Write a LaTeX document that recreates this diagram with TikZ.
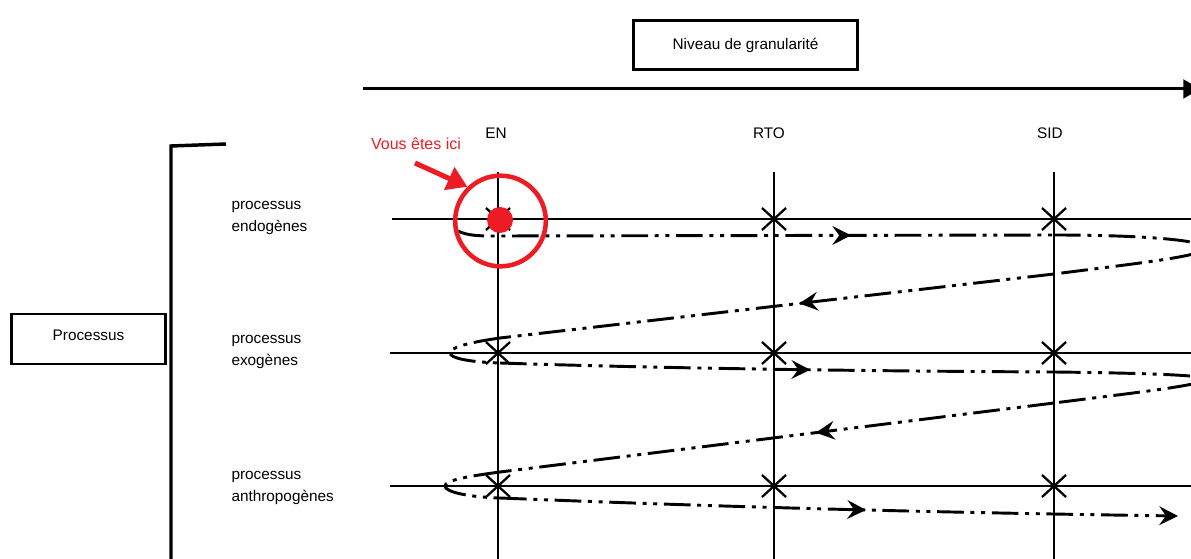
\documentclass[tikz,border=0pt]{standalone}
\usepackage{fontspec}
\setmainfont{Liberation Sans}
\usetikzlibrary{arrows.meta,decorations.markings,positioning}

\definecolor{rougeici}{RGB}{237,28,36}

\tikzset{every picture/.style={line width=0.75pt}}
\tikzset{
  cadre/.style={draw, line width=2.2pt, inner sep=0pt},
  etiquette/.style={font=\fontsize{11.5}{16.5}\selectfont, inner sep=0pt},
  trait/.style={line width=2.1pt},
  croix/.style={line width=1.7pt},
  parcours/.style={line width=2.2pt, dash pattern=on 20pt off 5pt on 3pt off 5pt on 3pt off 5pt},
  fleche parcours/.style={postaction={decorate}, decoration={markings,
      mark=at position #1 with {\arrow{Stealth[length=14pt,width=14pt,inset=5pt]}}}},
}

\begin{document}
\begin{tikzpicture}[x=0.75pt,y=0.75pt,yscale=-1,xscale=1]
\path[use as bounding box] (0,0) rectangle (1191,559);
\clip (0,0) rectangle (1191,559);

%Shape: Rectangle -- niveau
\node[cadre, minimum width=168pt, minimum height=36.75pt, etiquette] (niveau) at (745.5,45) {Niveau de granularité};
%Straight Lines -- axe de granularite
\coordinate (axe debut) at (363,89);
\coordinate (axe fin) at (1200,89);
\draw[line width=2.25pt, -{Triangle[length=12.5pt,width=14pt]}] (axe debut) -- (axe fin);

%Shape: Rectangle -- processus
\node[cadre, minimum width=115pt, minimum height=37.5pt, etiquette, text depth=6pt] (processus) at (88.5,339) {Processus};
%Straight Lines -- accolade
\draw[line width=2.6pt] (226,144) -- (171,146) -- (171,565);

%Text -- niveaux
\node[etiquette] (en) at (496,133) {EN};
\node[etiquette] (rto) at (769,133) {RTO};
\node[etiquette] (sid) at (1050,133) {SID};

%Text -- processus
\node[etiquette, anchor=west, align=left] (endo) at (231,218) {processus\\endogènes};
\node[etiquette, anchor=west, align=left] (exo) at (231,351.5) {processus\\exogènes};
\node[etiquette, anchor=west, align=left] (anthropo) at (231,488) {processus\\anthropogènes};

%Straight Lines -- grille
\foreach \cx in {498,774,1054}
  \draw[trait] (\cx,172) -- (\cx,565);
\foreach \cy/\cd in {219/392,353/390,486/390}
  \draw[trait] (\cd,\cy) -- (1200,\cy);

%Curve Lines -- parcours
\draw[parcours, fleche parcours=0.66] (458,231) .. controls (468,236) and (480,236) .. (500,236) -- (1054,235);
\draw[parcours] (1054,235) .. controls (1140,235) and (1205,240) .. (1205,248) .. controls (1205,256) and (1140,263) .. (1054,274);
\draw[parcours, fleche parcours=0.46] (1054,274) -- (500,338);
\draw[parcours] (500,338) .. controls (465,343) and (450,348) .. (450,353) .. controls (450,358) and (468,362) .. (500,363);
\draw[parcours, fleche parcours=0.56] (500,363) .. controls (650,368) and (850,371) .. (1054,372);
\draw[parcours] (1054,372) .. controls (1140,373) and (1205,375) .. (1205,379) .. controls (1205,385) and (1140,392) .. (1054,403);
\draw[parcours, fleche parcours=0.43] (1054,403) -- (500,472);
\draw[parcours] (500,472) .. controls (462,477) and (445,481) .. (445,486) .. controls (445,492) and (468,497) .. (500,498);
\draw[parcours, fleche parcours=0.54, -{Stealth[length=14pt,width=14pt,inset=5pt]}] (500,498) .. controls (700,506) and (900,512) .. (1178,516);

%Shape: Cross -- intersections
\foreach \cx/\cy in {498/219,774/219,1054/219,498/353,774/353,1054/353,498/486,774/486,1054/486}
  \draw[croix] (\cx-12,\cy-11) -- (\cx+12,\cy+11) (\cx-12,\cy+11) -- (\cx+12,\cy-11);

%Shape: Circle -- vous etes ici
\node[circle, fill=rougeici, minimum size=19.5pt, inner sep=0pt] (point) at (500,220) {};
\node[circle, draw=rougeici, line width=3.4pt, minimum size=68pt, inner sep=0pt] (cible) at (500.5,221) {};
\node[etiquette, text=rougeici, font=\fontsize{12}{14}\selectfont] (ici) at (416,144) {Vous êtes ici};
\coordinate (ici depart) at (415,163);
\draw[rougeici, line width=3.75pt, -{Triangle[length=15pt,width=18pt]}] (ici depart) -- (cible.134);

\end{tikzpicture}
\end{document}
